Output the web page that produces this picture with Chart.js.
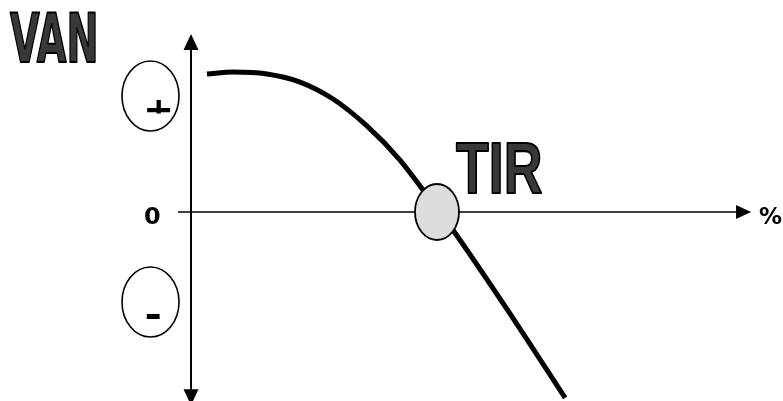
<!DOCTYPE html>
<html>
<head>
<meta charset="utf-8">
<script src="https://cdn.jsdelivr.net/npm/chart.js@4/dist/chart.umd.min.js"></script>
<style>
html,body{margin:0;padding:0;background:#fff;}
#wrap{width:783px;height:401px;position:relative;}
</style>
</head>
<body>
<div id="wrap"><canvas id="c"></canvas></div>
<script>
// Discount rate (%) and VAN (arbitrary units)
const rates = [0.65, 1.71, 3.10, 4.45, 5.80, 7.18, 8.53, 9.47, 10.69, 13.14, 15.27];
const van   = [99.3, 100.7, 99.3, 93.5, 81.3, 61.9, 37.4, 15.8, -12.9, -76.3, -133.8];
const tirRate = 10.04;
const yTitle = "VAN";
const xUnit = "%";
const zeroLabel = "0";
const tirLabel = "TIR";
const plusLabel = "+";
const minusLabel = "-";

const X_MIN = -7.796, X_MAX = 24.163;
const Y_MIN = -135.97, Y_MAX = 152.52;
const Y_AXIS_TOP = 128, Y_AXIS_BOTTOM = -139;
const X_AXIS_START = -0.53, X_AXIS_END = 22.86;

function fitText(ctx, txt, x, y, w, h, font, fill, stroke, lw) {
  ctx.save();
  ctx.font = font;
  ctx.textBaseline = 'alphabetic';
  ctx.textAlign = 'left';
  const m = ctx.measureText(txt);
  const asc = m.actualBoundingBoxAscent, desc = m.actualBoundingBoxDescent;
  const bw = m.actualBoundingBoxLeft + m.actualBoundingBoxRight;
  ctx.translate(x, y);
  ctx.scale(w / bw, h / (asc + desc));
  ctx.fillStyle = fill;
  ctx.fillText(txt, m.actualBoundingBoxLeft, asc);
  if (stroke) {
    ctx.lineWidth = lw;
    ctx.strokeStyle = stroke;
    ctx.lineJoin = 'round';
    ctx.strokeText(txt, m.actualBoundingBoxLeft, asc);
  }
  ctx.restore();
}

function ellipse(ctx, cx, cy, rx, ry, fill, lw) {
  ctx.save();
  ctx.beginPath();
  ctx.ellipse(cx, cy, rx, ry, 0, 0, Math.PI * 2);
  if (fill) { ctx.fillStyle = fill; ctx.fill(); }
  ctx.lineWidth = lw; ctx.strokeStyle = '#000';
  ctx.stroke();
  ctx.restore();
}

const axesPlugin = {
  id: 'axesArrows',
  beforeDatasetsDraw(chart) {
    const ctx = chart.ctx, xs = chart.scales.x, ys = chart.scales.y;
    const x0 = xs.getPixelForValue(0), y0 = ys.getPixelForValue(0);
    const yt = ys.getPixelForValue(Y_AXIS_TOP), yb = ys.getPixelForValue(Y_AXIS_BOTTOM);
    const xl = xs.getPixelForValue(X_AXIS_START), xr = xs.getPixelForValue(X_AXIS_END);
    ctx.save();
    ctx.strokeStyle = '#000'; ctx.fillStyle = '#000';
    ctx.lineWidth = 2;
    ctx.beginPath(); ctx.moveTo(x0, yt + 10); ctx.lineTo(x0, yb - 10); ctx.stroke();
    ctx.beginPath(); ctx.moveTo(x0, yt); ctx.lineTo(x0 - 7.5, yt + 16); ctx.lineTo(x0 + 7.5, yt + 16); ctx.closePath(); ctx.fill();
    ctx.beginPath(); ctx.moveTo(x0, yb); ctx.lineTo(x0 - 7.5, yb - 16); ctx.lineTo(x0 + 7.5, yb - 16); ctx.closePath(); ctx.fill();
    ctx.lineWidth = 1.5;
    ctx.beginPath(); ctx.moveTo(xl, y0); ctx.lineTo(xr - 10, y0); ctx.stroke();
    ctx.beginPath(); ctx.moveTo(xr, y0); ctx.lineTo(xr - 15, y0 - 7); ctx.lineTo(xr - 15, y0 + 7); ctx.closePath(); ctx.fill();
    ctx.restore();
  },
  afterDatasetsDraw(chart) {
    const ctx = chart.ctx, xs = chart.scales.x, ys = chart.scales.y;
    const x0 = xs.getPixelForValue(0), y0 = ys.getPixelForValue(0);
    ellipse(ctx, xs.getPixelForValue(tirRate), y0, 22, 28, '#dcdcdc', 1.8);
    const ex = x0 - 40.5;
    ellipse(ctx, ex, y0 - 116, 28.5, 35, null, 1.6);
    ellipse(ctx, ex, y0 + 90, 28.5, 35, null, 1.6);
    ctx.save();
    ctx.beginPath(); ctx.rect(ex - 10, y0 - 112, 30, 13.5); ctx.clip();
    fitText(ctx, plusLabel, ex - 3.5, y0 - 114, 24, 24, 'bold 40px "DejaVu Sans"', '#000');
    ctx.restore();
    fitText(ctx, minusLabel, ex - 4.5, y0 + 101, 14, 6, 'bold 30px "DejaVu Sans"', '#000');
    fitText(ctx, zeroLabel, x0 - 46, y0 - 5, 15, 17, 'bold 24px "DejaVu Sans"', '#000');
    fitText(ctx, xUnit, xs.getPixelForValue(X_AXIS_END) + 8, y0 - 5, 23, 17, 'bold 24px "DejaVu Sans"', '#000');
    fitText(ctx, yTitle, 10, 13, 85, 49, 'bold 70px "DejaVu Sans Condensed", "DejaVu Sans"', '#383838', '#000', 2);
    fitText(ctx, tirLabel, xs.getPixelForValue(tirRate) + 19, y0 - 69, 86, 50, 'bold 70px "Liberation Sans", Arial', '#383838', '#000', 2);
  }
};

new Chart(document.getElementById('c'), {
  type: 'scatter',
  data: {
    datasets: [{
      data: rates.map((r, i) => ({ x: r, y: van[i] })),
      showLine: true,
      borderColor: '#000',
      borderWidth: 5,
      pointRadius: 0,
      cubicInterpolationMode: 'monotone',
      borderCapStyle: 'butt',
      fill: false
    }]
  },
  options: {
    responsive: true,
    maintainAspectRatio: false,
    animation: false,
    layout: { padding: 0 },
    plugins: { legend: { display: false }, tooltip: { enabled: false }, title: { display: false } },
    scales: {
      x: { type: 'linear', min: X_MIN, max: X_MAX, display: false },
      y: { type: 'linear', min: Y_MIN, max: Y_MAX, display: false }
    }
  },
  plugins: [axesPlugin]
});
</script>
</body>
</html>
